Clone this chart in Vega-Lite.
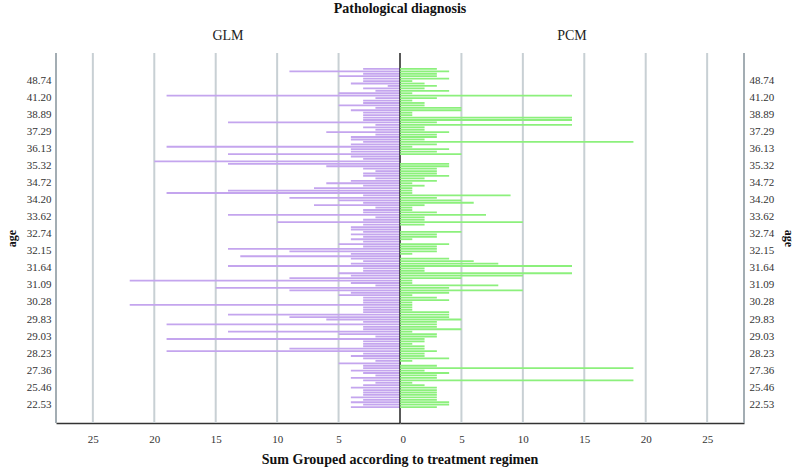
{
"$schema": "https://vega.github.io/schema/vega-lite/v6.json",
"background": "white",
"padding": {"left": 5, "right": 5, "top": 2, "bottom": 0},
"config": {"font": "Liberation Serif", "view": {"stroke": null}, "axis": {"labelFont": "Liberation Serif", "labelFontSize": 11, "labelColor": "#333333", "titleFont": "Liberation Serif", "titleFontSize": 12, "titleFontWeight": "bold", "titleColor": "#111111", "ticks": false}},
"title": {"text": "Pathological diagnosis", "font": "Liberation Serif", "fontSize": 14, "fontWeight": "bold", "color": "#111111", "anchor": "middle", "offset": 13},
"data": {"values": [
{"age":"58.12","GLM":3,"PCM":3},{"age":"55.30","GLM":9,"PCM":4},{"age":"52.47","GLM":3,"PCM":3},{"age":"50.91","GLM":5,"PCM":3},{"age":"49.60","GLM":3,"PCM":4},
{"age":"48.74","GLM":3,"PCM":1},{"age":"47.85","GLM":4,"PCM":2},{"age":"46.02","GLM":1,"PCM":3},{"age":"44.71","GLM":3,"PCM":2},{"age":"43.50","GLM":2,"PCM":4},{"age":"42.33","GLM":5,"PCM":1},{"age":"41.68","GLM":19,"PCM":14},
{"age":"41.20","GLM":2,"PCM":3},{"age":"40.75","GLM":3,"PCM":1},{"age":"40.31","GLM":3,"PCM":2},{"age":"39.92","GLM":5,"PCM":2},{"age":"39.60","GLM":2,"PCM":5},{"age":"39.34","GLM":4,"PCM":5},{"age":"39.07","GLM":3,"PCM":1},
{"age":"38.89","GLM":3,"PCM":1},{"age":"38.61","GLM":3,"PCM":14},{"age":"38.35","GLM":3,"PCM":14},{"age":"38.10","GLM":14,"PCM":3},{"age":"37.88","GLM":2,"PCM":14},{"age":"37.65","GLM":3,"PCM":2},{"age":"37.47","GLM":2,"PCM":2},
{"age":"37.29","GLM":6,"PCM":4},{"age":"37.10","GLM":2,"PCM":3},{"age":"36.92","GLM":4,"PCM":3},{"age":"36.74","GLM":4,"PCM":2},{"age":"36.55","GLM":3,"PCM":19},{"age":"36.40","GLM":4,"PCM":3},{"age":"36.26","GLM":19,"PCM":1},
{"age":"36.13","GLM":4,"PCM":4},{"age":"36.00","GLM":4,"PCM":3},{"age":"35.88","GLM":14,"PCM":5},{"age":"35.74","GLM":4,"PCM":0},{"age":"35.62","GLM":3,"PCM":0},{"age":"35.51","GLM":20,"PCM":0},{"age":"35.43","GLM":14,"PCM":4},
{"age":"35.32","GLM":6,"PCM":4},{"age":"35.23","GLM":3,"PCM":3},{"age":"35.14","GLM":2,"PCM":3},{"age":"35.05","GLM":3,"PCM":3},{"age":"34.96","GLM":3,"PCM":4},{"age":"34.88","GLM":2,"PCM":2},{"age":"34.80","GLM":4,"PCM":3},
{"age":"34.72","GLM":6,"PCM":1},{"age":"34.64","GLM":3,"PCM":2},{"age":"34.57","GLM":7,"PCM":1},{"age":"34.49","GLM":14,"PCM":1},{"age":"34.41","GLM":19,"PCM":1},{"age":"34.34","GLM":3,"PCM":9},{"age":"34.27","GLM":9,"PCM":3},
{"age":"34.20","GLM":5,"PCM":5},{"age":"34.11","GLM":3,"PCM":6},{"age":"34.03","GLM":7,"PCM":2},{"age":"33.94","GLM":2,"PCM":1},{"age":"33.86","GLM":3,"PCM":1},{"age":"33.78","GLM":3,"PCM":3},{"age":"33.70","GLM":14,"PCM":7},
{"age":"33.62","GLM":2,"PCM":2},{"age":"33.48","GLM":3,"PCM":2},{"age":"33.33","GLM":10,"PCM":10},{"age":"33.19","GLM":3,"PCM":2},{"age":"33.04","GLM":4,"PCM":0},{"age":"32.90","GLM":4,"PCM":0},{"age":"32.82","GLM":3,"PCM":5},
{"age":"32.74","GLM":4,"PCM":3},{"age":"32.65","GLM":3,"PCM":3},{"age":"32.57","GLM":4,"PCM":1},{"age":"32.48","GLM":3,"PCM":0},{"age":"32.40","GLM":5,"PCM":4},{"age":"32.31","GLM":3,"PCM":3},{"age":"32.23","GLM":14,"PCM":3},
{"age":"32.15","GLM":9,"PCM":3},{"age":"32.07","GLM":4,"PCM":1},{"age":"32.00","GLM":13,"PCM":0},{"age":"31.92","GLM":4,"PCM":4},{"age":"31.85","GLM":3,"PCM":6},{"age":"31.78","GLM":4,"PCM":8},{"age":"31.71","GLM":14,"PCM":14},
{"age":"31.64","GLM":3,"PCM":2},{"age":"31.56","GLM":3,"PCM":2},{"age":"31.48","GLM":5,"PCM":14},{"age":"31.40","GLM":4,"PCM":10},{"age":"31.32","GLM":9,"PCM":5},{"age":"31.24","GLM":22,"PCM":1},{"age":"31.17","GLM":4,"PCM":1},
{"age":"31.09","GLM":2,"PCM":8},{"age":"30.97","GLM":15,"PCM":4},{"age":"30.85","GLM":9,"PCM":10},{"age":"30.73","GLM":4,"PCM":4},{"age":"30.61","GLM":5,"PCM":1},{"age":"30.49","GLM":3,"PCM":3},{"age":"30.38","GLM":3,"PCM":4},
{"age":"30.28","GLM":3,"PCM":1},{"age":"30.21","GLM":22,"PCM":1},{"age":"30.14","GLM":3,"PCM":1},{"age":"30.07","GLM":3,"PCM":1},{"age":"30.00","GLM":3,"PCM":4},{"age":"29.93","GLM":14,"PCM":4},{"age":"29.88","GLM":9,"PCM":4},
{"age":"29.83","GLM":6,"PCM":5},{"age":"29.71","GLM":3,"PCM":3},{"age":"29.60","GLM":19,"PCM":3},{"age":"29.48","GLM":3,"PCM":3},{"age":"29.37","GLM":3,"PCM":5},{"age":"29.25","GLM":14,"PCM":1},{"age":"29.14","GLM":5,"PCM":3},
{"age":"29.03","GLM":2,"PCM":3},{"age":"28.91","GLM":19,"PCM":2},{"age":"28.80","GLM":3,"PCM":2},{"age":"28.68","GLM":3,"PCM":1},{"age":"28.57","GLM":3,"PCM":2},{"age":"28.45","GLM":9,"PCM":2},{"age":"28.34","GLM":19,"PCM":3},
{"age":"28.23","GLM":3,"PCM":2},{"age":"28.10","GLM":4,"PCM":2},{"age":"27.98","GLM":3,"PCM":4},{"age":"27.85","GLM":2,"PCM":1},{"age":"27.73","GLM":5,"PCM":0},{"age":"27.61","GLM":3,"PCM":3},{"age":"27.49","GLM":3,"PCM":19},
{"age":"27.36","GLM":4,"PCM":2},{"age":"27.08","GLM":3,"PCM":4},{"age":"26.80","GLM":2,"PCM":3},{"age":"26.52","GLM":4,"PCM":3},{"age":"26.25","GLM":3,"PCM":19},{"age":"25.98","GLM":2,"PCM":1},{"age":"25.72","GLM":3,"PCM":2},
{"age":"25.46","GLM":4,"PCM":3},{"age":"25.01","GLM":3,"PCM":3},{"age":"24.57","GLM":3,"PCM":3},{"age":"24.13","GLM":3,"PCM":3},{"age":"23.70","GLM":4,"PCM":3},{"age":"23.28","GLM":3,"PCM":3},{"age":"22.90","GLM":4,"PCM":4},
{"age":"22.53","GLM":3,"PCM":4},{"age":"21.84","GLM":4,"PCM":3}
]},
"vconcat": [{
  "title": {"text": "Sum Grouped according to treatment regimen", "orient": "bottom", "font": "Liberation Serif", "fontSize": 14, "fontWeight": "bold", "color": "#111111", "anchor": "middle", "offset": 9},
  "spacing": 0,
  "bounds": "flush",
  "hconcat": [
    {
      "width": 344, "height": 370,
      "title": {"text": "GLM", "font": "Liberation Serif", "fontSize": 14, "fontWeight": "normal", "color": "#222222", "offset": 9},
      "layer": [
        {
          "data": {"values": [{"g": 5}, {"g": 10}, {"g": 15}, {"g": 20}, {"g": 25}, {"g": 28}]},
          "mark": {"type": "rule"},
          "encoding": {
            "x": {"field": "g", "type": "quantitative", "scale": {"domain": [0, 28], "reverse": true, "nice": false},
                  "axis": {"title": null, "values": [5, 10, 15, 20, 25], "grid": false, "labelPadding": 10, "domainColor": "#333333", "domainWidth": 1.5}},
            "stroke": {"condition": {"test": "datum.g === 28", "value": "#a3adb3"}, "value": "#c8d0d4"},
            "strokeWidth": {"value": 2}
          }
        },
        {
          "mark": {"type": "bar", "color": "#c4a5ee"},
          "encoding": {
            "y": {"field": "age", "type": "ordinal", "sort": null, "scale": {"paddingInner": 0.25, "paddingOuter": 0, "range": [15, 355]},
                  "axis": {"orient": "left", "title": "age", "values": ["48.74","41.20","38.89","37.29","36.13","35.32","34.72","34.20","33.62","32.74","32.15","31.64","31.09","30.28","29.83","29.03","28.23","27.36","25.46","22.53"], "labelPadding": 5, "titlePadding": 8, "domain": false, "grid": false}},
            "x": {"field": "GLM", "type": "quantitative", "scale": {"domain": [0, 28], "reverse": true, "nice": false},
                  "axis": {"title": null, "values": [5, 10, 15, 20, 25], "grid": false, "labelPadding": 10, "domainColor": "#333333", "domainWidth": 1.5}}
          }
        }
      ]
    },
    {
      "width": 344, "height": 370,
      "title": {"text": "PCM", "font": "Liberation Serif", "fontSize": 14, "fontWeight": "normal", "color": "#222222", "offset": 9},
      "layer": [
        {
          "data": {"values": [{"g": 0}, {"g": 5}, {"g": 10}, {"g": 15}, {"g": 20}, {"g": 25}, {"g": 28}]},
          "mark": {"type": "rule"},
          "encoding": {
            "x": {"field": "g", "type": "quantitative", "scale": {"domain": [0, 28], "nice": false},
                  "axis": {"title": null, "values": [0, 5, 10, 15, 20, 25], "grid": false, "labelPadding": 10, "domainColor": "#333333", "domainWidth": 1.5}},
            "stroke": {"condition": [{"test": "datum.g === 0", "value": "#222222"}, {"test": "datum.g === 28", "value": "#a3adb3"}], "value": "#c8d0d4"},
            "strokeWidth": {"condition": {"test": "datum.g === 0", "value": 1.5}, "value": 2}
          }
        },
        {
          "mark": {"type": "bar", "color": "#8cf07c"},
          "encoding": {
            "y": {"field": "age", "type": "ordinal", "sort": null, "scale": {"paddingInner": 0.25, "paddingOuter": 0, "range": [15, 355]},
                  "axis": {"orient": "right", "title": "age", "values": ["48.74","41.20","38.89","37.29","36.13","35.32","34.72","34.20","33.62","32.74","32.15","31.64","31.09","30.28","29.83","29.03","28.23","27.36","25.46","22.53"], "labelPadding": 5, "titlePadding": 8, "domain": false, "grid": false}},
            "x": {"field": "PCM", "type": "quantitative", "scale": {"domain": [0, 28], "nice": false},
                  "axis": {"title": null, "values": [0, 5, 10, 15, 20, 25], "grid": false, "labelPadding": 10, "domainColor": "#333333", "domainWidth": 1.5}}
          }
        }
      ]
    }
  ]
}]
}
